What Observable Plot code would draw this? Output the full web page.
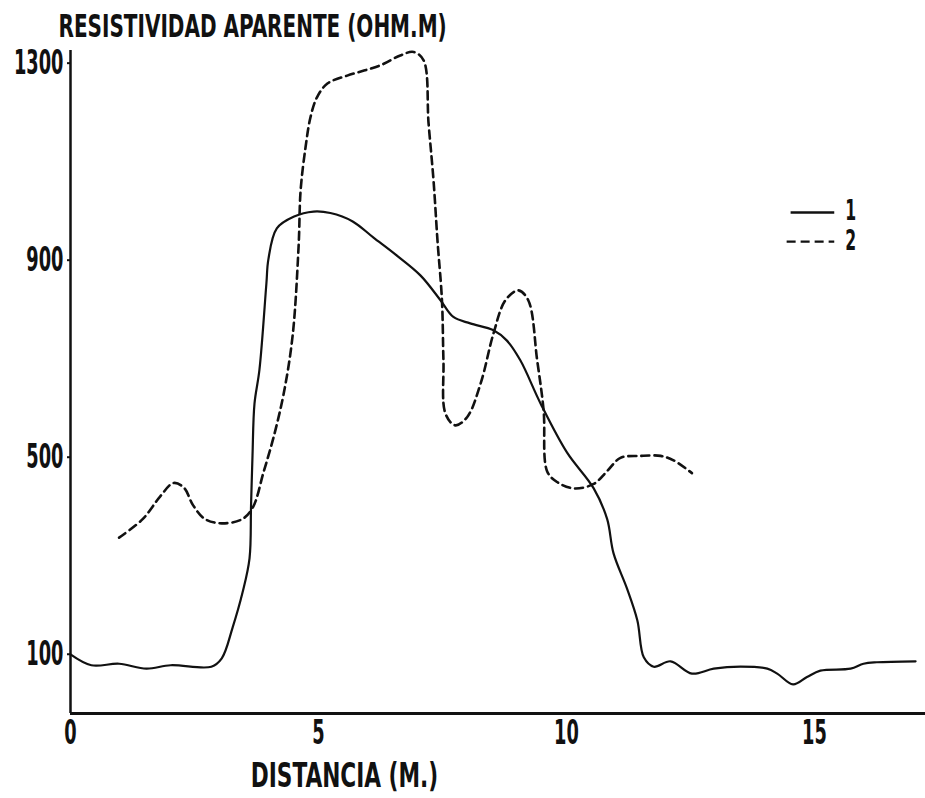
<!DOCTYPE html>
<html>
<head>
<meta charset="utf-8">
<script src="https://cdn.jsdelivr.net/npm/d3@7"></script>
<script src="https://cdn.jsdelivr.net/npm/@observablehq/plot@0.6"></script>
<style>
  html, body { margin: 0; padding: 0; background: #fff; }
  #chart svg { display: block; }
</style>
</head>
<body>
<div id="chart"></div>
<script>
// ---- data ----
const distance1 = [0, 0.42, 0.98, 1.53, 2.02, 2.84, 3.05, 3.27, 3.47, 3.61, 3.64, 3.67, 3.71, 3.81, 3.95, 3.99, 4.16, 4.51, 4.90, 5.24, 5.69, 6.11, 6.55, 7.06, 7.46, 7.72, 8.06, 8.53, 8.80, 9.07, 9.48, 10.01, 10.55, 10.82, 10.95, 11.22, 11.43, 11.56, 11.76, 12.10, 12.53, 12.97, 13.51, 14.05, 14.25, 14.57, 14.85, 15.12, 15.73, 15.99, 16.26, 17.04];
const resist1 = [120, 98, 101, 91, 98, 95, 112, 175, 246, 315, 420, 524, 629, 698, 873, 922, 985, 1009, 1019, 1016, 999, 966, 932, 889, 839, 805, 792, 778, 757, 717, 629, 530, 457, 395, 325, 254, 189, 114, 95, 106, 81, 91, 95, 91, 81, 59, 74, 87, 91, 101, 104, 106];

const distance2 = [0.98, 1.46, 1.81, 2.08, 2.29, 2.47, 2.71, 3.05, 3.47, 3.68, 3.89, 4.09, 4.30, 4.48, 4.60, 4.64, 4.74, 4.84, 4.97, 5.18, 5.58, 6.25, 6.65, 6.92, 7.12, 7.22, 7.32, 7.40, 7.49, 7.52, 7.56, 7.76, 8.00, 8.27, 8.53, 8.77, 9.03, 9.23, 9.41, 9.54, 9.61, 9.81, 10.15, 10.55, 10.82, 11.09, 11.49, 11.90, 12.16, 12.53];
const resist2 = [357, 395, 441, 468, 458, 423, 395, 386, 395, 419, 489, 559, 650, 768, 950, 1062, 1150, 1211, 1251, 1279, 1295, 1316, 1336, 1343, 1326, 1198, 1082, 960, 839, 717, 609, 585, 602, 670, 772, 839, 859, 839, 717, 615, 492, 470, 457, 466, 492, 519, 523, 523, 514, 488];

const seriesNames = ["1", "2"];
const xTicks = [0, 5, 10, 15];
const yTicks = [100, 500, 900, 1300];
const yTitle = "RESISTIVIDAD APARENTE (OHM.M)";
const xTitle = "DISTANCIA (M.)";

// ---- build tables ----
const s1 = distance1.map((d, i) => ({x: d, y: resist1[i]}));
const s2 = distance2.map((d, i) => ({x: d, y: resist2[i]}));

// legend layout (in data units)
const legendSolid = [{x1: 14.52, x2: 15.40, y: 1017}];
const legendDashed = [{x1: 14.44, x2: 15.40, y: 958}];
const legendText = [{x: 15.62, y: 1020, name: seriesNames[0]}, {x: 15.62, y: 960, name: seriesNames[1]}];

const ink = "#111";
const FS = 33;

const plot = Plot.plot({
  width: 925,
  height: 798,
  marginLeft: 70,
  marginRight: 0,
  marginTop: 50,
  marginBottom: 85,
  x: {domain: [0, 17.24]},
  y: {domain: [0, 1346]},
  style: {
    fontFamily: "'DejaVu Sans Condensed', 'DejaVu Sans', sans-serif",
    fontWeight: "bold",
    fontSize: FS + "px",
    color: ink,
    background: "#fff"
  },
  marks: [
    Plot.ruleX([0], {stroke: ink, strokeWidth: 2.5}),
    Plot.ruleY([0], {stroke: ink, strokeWidth: 3}),
    Plot.axisX({ticks: xTicks, tickFormat: d => String(d), tickSize: 0, tickPadding: 7, fontSize: FS, label: null, lineAnchor: "top"}),
    Plot.axisY({ticks: yTicks, tickFormat: d => String(d), tickSize: 3, tickPadding: 4, fontSize: FS, label: null, lineAnchor: "middle", dy: -10, stroke: ink, strokeWidth: 2}),
    Plot.line(s1, {x: "x", y: "y", stroke: ink, strokeWidth: 2.2, curve: "catmull-rom"}),
    Plot.line(s2, {x: "x", y: "y", stroke: ink, strokeWidth: 2.6, strokeDasharray: "8,5", curve: "catmull-rom"}),
    Plot.link(legendSolid, {x1: "x1", x2: "x2", y1: "y", y2: "y", stroke: ink, strokeWidth: 2.4}),
    Plot.link(legendDashed, {x1: "x1", x2: "x2", y1: "y", y2: "y", stroke: ink, strokeWidth: 2.4, strokeDasharray: "9,5"}),
    Plot.text(legendText, {x: "x", y: "y", text: "name", textAnchor: "start", lineAnchor: "middle", fontSize: FS - 4, fill: ink}),
    Plot.text([yTitle], {frameAnchor: "top-left", dx: -12, dy: -24, textAnchor: "start", lineAnchor: "middle", fontSize: FS - 1, fill: ink}),
    Plot.text([xTitle], {frameAnchor: "bottom-left", dx: 274, dy: 63, textAnchor: "middle", lineAnchor: "middle", fontSize: FS, fill: ink})
  ]
});

document.getElementById("chart").appendChild(plot);

// condense all text horizontally (the reference uses a very narrow bold face)
plot.querySelectorAll("text").forEach(t => {
  const s = t.textContent;
  const SX = s === xTitle ? 0.73 : s === yTitle ? 0.695 : 0.6;
  const len = t.getComputedTextLength();
  if (len > 0) {
    t.setAttribute("textLength", (len * SX).toFixed(2));
    t.setAttribute("lengthAdjust", "spacingAndGlyphs");
  }
});
</script>
</body>
</html>
